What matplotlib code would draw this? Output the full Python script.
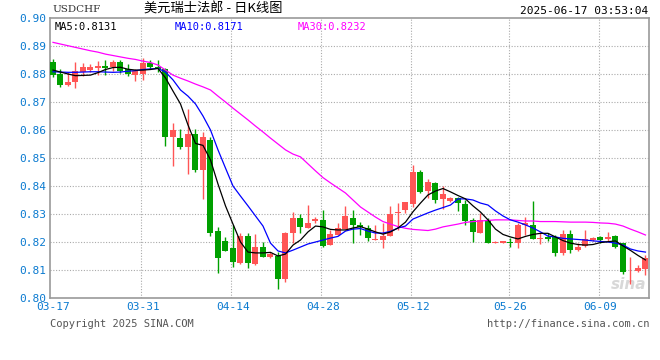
import matplotlib
matplotlib.use("Agg")
import matplotlib.pyplot as plt

# daily candles, 2025-03-17 .. 2025-06-16 (sina forex, includes saturdays)
opens = [0.8843, 0.8801, 0.8762, 0.8773, 0.8808, 0.8814, 0.8821, 0.8830, 0.8825, 0.8843,
         0.8817, 0.8798, 0.8801, 0.8838, 0.8824, 0.8817, 0.8576, 0.8571, 0.8540, 0.8586,
         0.8457, 0.8564, 0.8239, 0.8204, 0.8180, 0.8126, 0.8221, 0.8121, 0.8182, 0.8145,
         0.8150, 0.8069, 0.8233, 0.8286, 0.8251, 0.8274, 0.8279, 0.8189, 0.8226, 0.8248,
         0.8285, 0.8261, 0.8249, 0.8208, 0.8207, 0.8221, 0.8303, 0.8314, 0.8336, 0.8450,
         0.8383, 0.8412, 0.8353, 0.8348, 0.8356, 0.8336, 0.8279, 0.8233, 0.8279, 0.8198,
         0.8198, 0.8201, 0.8195, 0.8260, 0.8261, 0.8212, 0.8219, 0.8217, 0.8162, 0.8229,
         0.8171, 0.8186, 0.8207, 0.8217, 0.8210, 0.8221, 0.8195, 0.8095, 0.8098, 0.8103]
highs = [0.8854, 0.8817, 0.8808, 0.8843, 0.8839, 0.8836, 0.8846, 0.8850, 0.8850, 0.8850,
         0.8836, 0.8817, 0.8858, 0.8850, 0.8850, 0.8820, 0.8626, 0.8604, 0.8676, 0.8604,
         0.8593, 0.8575, 0.8253, 0.8217, 0.8261, 0.8233, 0.8233, 0.8228, 0.8199, 0.8165,
         0.8165, 0.8237, 0.8308, 0.8299, 0.8332, 0.8288, 0.8314, 0.8243, 0.8269, 0.8328,
         0.8314, 0.8273, 0.8261, 0.8261, 0.8269, 0.8330, 0.8340, 0.8344, 0.8475, 0.8457,
         0.8425, 0.8415, 0.8400, 0.8362, 0.8362, 0.8350, 0.8285, 0.8303, 0.8285, 0.8205,
         0.8205, 0.8213, 0.8267, 0.8290, 0.8348, 0.8231, 0.8233, 0.8225, 0.8243, 0.8243,
         0.8195, 0.8243, 0.8219, 0.8221, 0.8237, 0.8225, 0.8198, 0.8145, 0.8118, 0.8154]
lows = [0.8790, 0.8755, 0.8757, 0.8751, 0.8793, 0.8807, 0.8798, 0.8798, 0.8810, 0.8803,
        0.8793, 0.8776, 0.8780, 0.8817, 0.8808, 0.8543, 0.8471, 0.8533, 0.8444, 0.8451,
        0.8354, 0.8221, 0.8090, 0.8169, 0.8112, 0.8121, 0.8108, 0.8119, 0.8145, 0.8143,
        0.8032, 0.8058, 0.8198, 0.8233, 0.8251, 0.8267, 0.8183, 0.8189, 0.8226, 0.8248,
        0.8198, 0.8225, 0.8204, 0.8206, 0.8180, 0.8221, 0.8243, 0.8303, 0.8326, 0.8374,
        0.8356, 0.8340, 0.8317, 0.8344, 0.8312, 0.8261, 0.8201, 0.8231, 0.8195, 0.8195,
        0.8195, 0.8183, 0.8180, 0.8225, 0.8210, 0.8193, 0.8205, 0.8150, 0.8154, 0.8162,
        0.8169, 0.8181, 0.8204, 0.8195, 0.8205, 0.8178, 0.8086, 0.8050, 0.8094, 0.8082]
closes = [0.8798, 0.8762, 0.8771, 0.8810, 0.8825, 0.8825, 0.8830, 0.8821, 0.8843, 0.8812,
          0.8801, 0.8812, 0.8839, 0.8826, 0.8817, 0.8576, 0.8600, 0.8539, 0.8586, 0.8458,
          0.8575, 0.8233, 0.8142, 0.8169, 0.8130, 0.8221, 0.8124, 0.8182, 0.8148, 0.8157,
          0.8069, 0.8233, 0.8286, 0.8253, 0.8268, 0.8281, 0.8186, 0.8229, 0.8250, 0.8293,
          0.8260, 0.8253, 0.8215, 0.8210, 0.8221, 0.8300, 0.8308, 0.8344, 0.8450, 0.8380,
          0.8414, 0.8350, 0.8373, 0.8356, 0.8338, 0.8275, 0.8237, 0.8279, 0.8198, 0.8201,
          0.8202, 0.8195, 0.8261, 0.8267, 0.8212, 0.8213, 0.8211, 0.8162, 0.8229, 0.8171,
          0.8183, 0.8210, 0.8213, 0.8207, 0.8219, 0.8183, 0.8094, 0.8098, 0.8106, 0.8142]

# moving averages as drawn on the chart
ma5 = [0.8814, 0.8807, 0.8800, 0.8794, 0.8795, 0.8796, 0.8805, 0.8816, 0.8823, 0.8824,
       0.8817, 0.8814, 0.8814, 0.8816, 0.8820, 0.8786, 0.8739, 0.8693, 0.8618, 0.8552,
       0.8545, 0.8493, 0.8407, 0.8329, 0.8264, 0.8200, 0.8164, 0.8161, 0.8161, 0.8163,
       0.8150, 0.8157, 0.8189, 0.8207, 0.8236, 0.8257, 0.8254, 0.8245, 0.8243, 0.8243,
       0.8250, 0.8255, 0.8246, 0.8236, 0.8228, 0.8236, 0.8250, 0.8271, 0.8308, 0.8339,
       0.8368, 0.8382, 0.8391, 0.8379, 0.8366, 0.8354, 0.8329, 0.8307, 0.8279, 0.8246,
       0.8227, 0.8218, 0.8211, 0.8220, 0.8227, 0.8231, 0.8231, 0.8218, 0.8205, 0.8196,
       0.8191, 0.8189, 0.8191, 0.8198, 0.8201, 0.8204, 0.8186, 0.8170, 0.8152, 0.8136]
ma10 = [0.8808, 0.8807, 0.8806, 0.8806, 0.8807, 0.8808, 0.8808, 0.8807, 0.8806, 0.8807,
        0.8810, 0.8812, 0.8816, 0.8818, 0.8820, 0.8807, 0.8779, 0.8743, 0.8721, 0.8693,
        0.8650, 0.8600, 0.8529, 0.8464, 0.8400, 0.8364, 0.8329, 0.8293, 0.8257, 0.8196,
        0.8168, 0.8161, 0.8171, 0.8182, 0.8193, 0.8200, 0.8207, 0.8214, 0.8220, 0.8239,
        0.8246, 0.8248, 0.8239, 0.8232, 0.8232, 0.8238, 0.8250, 0.8257, 0.8282, 0.8293,
        0.8304, 0.8314, 0.8323, 0.8332, 0.8354, 0.8354, 0.8350, 0.8339, 0.8332, 0.8311,
        0.8293, 0.8279, 0.8271, 0.8261, 0.8250, 0.8236, 0.8221, 0.8218, 0.8213, 0.8211,
        0.8209, 0.8207, 0.8204, 0.8202, 0.8200, 0.8196, 0.8189, 0.8175, 0.8168, 0.8164]
ma30 = [0.8913, 0.8907, 0.8901, 0.8895, 0.8889, 0.8883, 0.8878, 0.8871, 0.8866, 0.8861,
        0.8856, 0.8852, 0.8846, 0.8841, 0.8832, 0.8814, 0.8796, 0.8785, 0.8775, 0.8764,
        0.8754, 0.8743, 0.8721, 0.8700, 0.8678, 0.8657, 0.8636, 0.8614, 0.8593, 0.8571,
        0.8550, 0.8529, 0.8514, 0.8504, 0.8479, 0.8454, 0.8430, 0.8411, 0.8393, 0.8375,
        0.8350, 0.8325, 0.8307, 0.8289, 0.8273, 0.8264, 0.8255, 0.8249, 0.8245, 0.8243,
        0.8241, 0.8246, 0.8254, 0.8259, 0.8264, 0.8270, 0.8273, 0.8275, 0.8277, 0.8279,
        0.8279, 0.8279, 0.8277, 0.8275, 0.8275, 0.8273, 0.8273, 0.8273, 0.8272, 0.8271,
        0.8271, 0.8271, 0.8270, 0.8268, 0.8267, 0.8264, 0.8257, 0.8246, 0.8236, 0.8225]

tick_idx = [0, 12, 24, 36, 48, 61, 73]
tick_labels = ["03-17", "03-31", "04-14", "04-28", "05-12", "05-26", "06-09"]
y_ticks = [0.80, 0.81, 0.82, 0.83, 0.84, 0.85, 0.86, 0.87, 0.88, 0.89, 0.90]

UP = "#ff5555"
DOWN = "#00a000"
BLUE_TXT = "#0a7ad0"
MONO = "DejaVu Sans Mono"

fig = plt.figure(figsize=(6.6, 3.6), dpi=100)
ax = fig.add_axes([50 / 660, 1 - 298 / 360, 599 / 660, 280 / 360])

x = list(range(len(closes)))
for i in x:
    o, h, l, c = opens[i], highs[i], lows[i], closes[i]
    col = UP if c >= o else DOWN
    ax.vlines(i, l, h, color=col, linewidth=1, zorder=2)
    bottom = min(o, c)
    height = max(abs(c - o), 0.00005)
    ax.bar(i, height, bottom=bottom, width=0.8, color=col, linewidth=0, zorder=3)

ax.plot(x, ma30, color="#ff00ff", linewidth=0.9, zorder=4)
ax.plot(x, ma10, color="#0000ff", linewidth=0.9, zorder=4)
ax.plot(x, ma5, color="#000000", linewidth=0.9, zorder=4)

ax.set_xlim(-0.4, 79.47)
ax.set_ylim(0.80, 0.90)
ax.set_yticks(y_ticks)
ax.set_yticklabels(["%.2f" % v for v in y_ticks], family=MONO, fontsize=8, color=BLUE_TXT)
ax.set_xticks(tick_idx)
ax.set_xticklabels(tick_labels, family=MONO, fontsize=8, color=BLUE_TXT)
ax.tick_params(length=0, pad=3)

for v in y_ticks[1:-1]:
    ax.axhline(v, color="#aaaaaa", linestyle=(0, (1, 1.5)), linewidth=0.8, zorder=1)
for t in tick_idx[1:]:
    ax.axvline(t - 0.2, color="#aaaaaa", linestyle=(0, (1, 1.5)), linewidth=0.8, zorder=1)

for s in ax.spines.values():
    s.set_color("#999999")
    s.set_linewidth(1.2)

# MA legend
ax.text(0.008, 0.985, "MA5:%.4f" % 0.8131, transform=ax.transAxes, ha="left", va="top",
        family=MONO, fontsize=7.5, color="#000000")
ax.text(0.208, 0.985, "MA10:%.4f" % 0.8171, transform=ax.transAxes, ha="left", va="top",
        family=MONO, fontsize=7.5, color="#0000ff")
ax.text(0.413, 0.985, "MA30:%.4f" % 0.8232, transform=ax.transAxes, ha="left", va="top",
        family=MONO, fontsize=7.5, color="#ff00ff")

# sina watermark
ax.text(0.995, 0.02, "sina", transform=ax.transAxes, ha="right", va="bottom",
        fontsize=11, fontweight="bold", style="italic", color="#d8d8d8", zorder=0)

# header
fig.text(52 / 660, 1 - 10 / 360, "USDCHF", ha="left", va="center",
         family="DejaVu Serif", fontsize=7.5, color="#333333")
fig.text(213 / 660, 1 - 9 / 360, "美元瑞士法郎 - 日K线图", ha="center", va="center",
         family=["Noto Sans CJK SC", "DejaVu Sans"], fontsize=9.5, color="#000000")
fig.text(648 / 660, 1 - 11 / 360, "2025-06-17 03:53:04", ha="right", va="center",
         family=MONO, fontsize=8, color="#000000")

# footer
fig.text(50 / 660, 1 - 324 / 360, "Copyright 2025 SINA.COM", ha="left", va="center",
         family=MONO, fontsize=7.5, color="#555555")
fig.text(649 / 660, 1 - 324 / 360, "http://finance.sina.com.cn", ha="right", va="center",
         family=MONO, fontsize=7.5, color="#555555")

fig.savefig("out.png", dpi=100)
